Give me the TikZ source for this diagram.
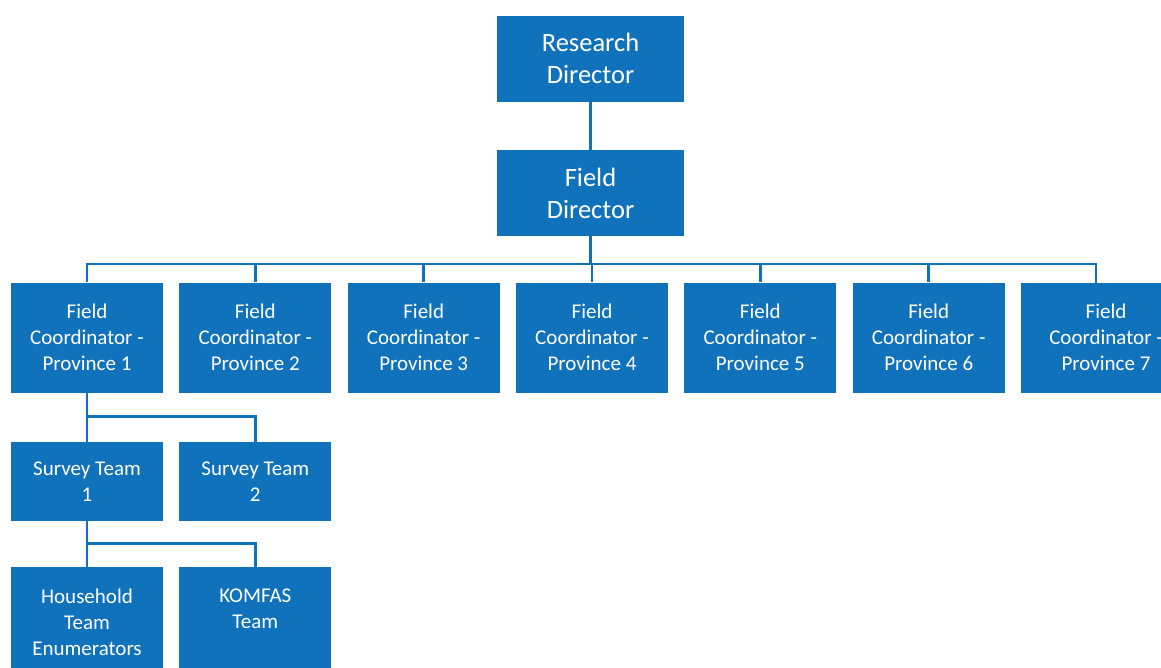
\documentclass[tikz,border=0pt]{standalone}
\usepackage{fontspec}
\setmainfont{Carlito}
\usetikzlibrary{calc}
\definecolor{orgblue}{HTML}{1172BC}
\begin{document}
\begin{tikzpicture}[x=1pt,y=-1pt,
  box/.style={draw=none,fill=orgblue,text=white,align=center,inner sep=0pt},
  big/.style={box,minimum width=187pt,minimum height=86pt,font=\fontsize{26.5}{32}\selectfont},
  prov/.style={box,minimum width=152pt,minimum height=110pt,font=\fontsize{21}{26}\selectfont},
  team/.style={box,minimum width=152pt,minimum height=79pt,font=\fontsize{21}{26}\selectfont},
  label/.style={text=white,align=center,font=\fontsize{21}{26}\selectfont,inner sep=0pt},
  link/.style={draw=orgblue,line width=2.6pt,line join=miter}]
\useasboundingbox (0,0) rectangle (1161,668);
\clip (0,0) rectangle (1161,668);
\fill[white] (0,0) rectangle (1161,668);

% top of the chart
\node[big] (rd) at (590.5,58.8) {Research\\Director};
\node[big] (fd) at (590.5,193) {Field\\Director};

% field coordinators, one per province
\foreach \i/\x in {1/87,2/255.3,3/423.7,4/592,5/760.3,6/928.7}
  \node[prov] (p\i) at (\x,337.5) {Field\\Coordinator -\\Province \i};
\node[prov,minimum width=170pt] (p7) at (1106,337.5) {Field\\Coordinator -\\Province 7};
\coordinate (p7top) at (1096,283);

% survey teams under province 1
\node[team] (s1) at (87,481.5) {Survey Team\\1};
\node[team] (s2) at (255.3,481.5) {Survey Team\\2};

% teams under survey team 1
\node[box,minimum width=152pt,minimum height=110pt] (h1) at (87,622) {};
\node[box,minimum width=152pt,minimum height=110pt] (k1) at (255.3,622) {};
\node[label] (h1t) at (87,622) {Household\\Team\\Enumerators};
\node[label] (k1t) at (255.3,609) {KOMFAS\\Team};

% connectors
\coordinate (busa) at (0,264);
\coordinate (busb) at (0,416.7);
\coordinate (busc) at (0,543.3);
\draw[link] (rd.south) -- (fd.north);
\foreach \i in {1,...,6}
  \draw[link] (fd.south) -- (fd.south |- busa) -| (p\i.north);
\draw[link] (fd.south) -- (fd.south |- busa) -| (p7top);
\draw[link] (p1.south) -- (p1.south |- busb) -| (s1.north);
\draw[link] (p1.south) -- (p1.south |- busb) -| (s2.north);
\draw[link] (s1.south) -- (s1.south |- busc) -| (h1.north);
\draw[link] (s1.south) -- (s1.south |- busc) -| (k1.north);
\end{tikzpicture}
\end{document}
